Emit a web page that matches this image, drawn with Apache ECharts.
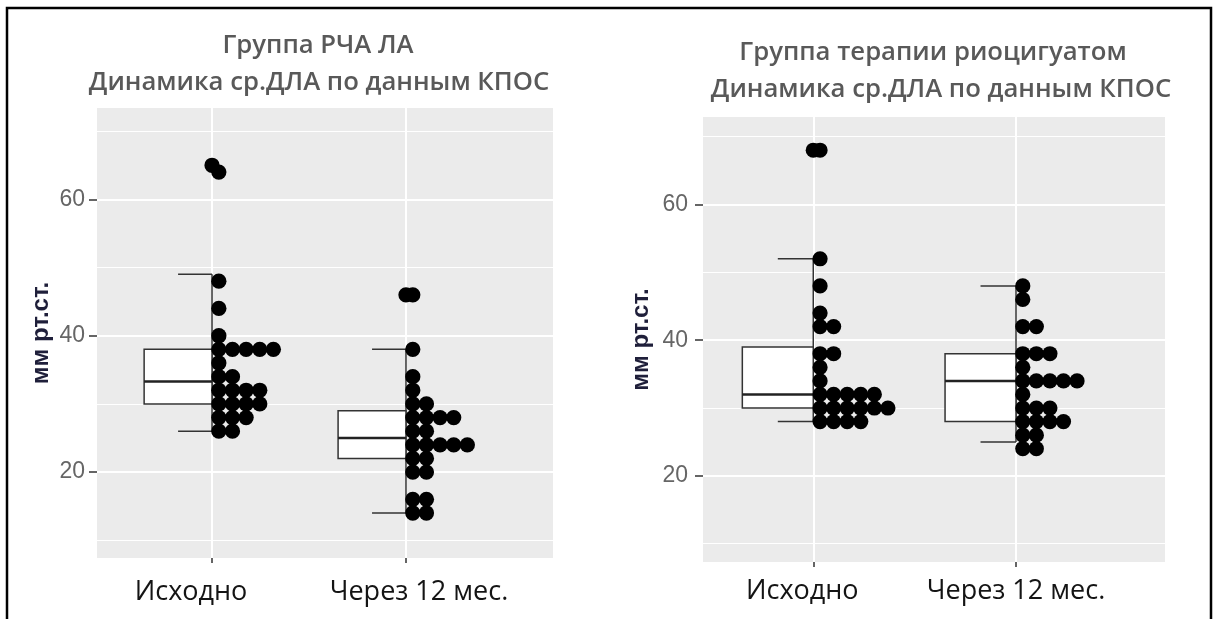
<!DOCTYPE html>
<html>
<head>
<meta charset="utf-8">
<script src="https://cdn.jsdelivr.net/npm/echarts@6/dist/echarts.min.js"></script>
<style>
  html, body { margin: 0; padding: 0; background: #fff; }
  #chart { width: 1217px; height: 619px; }
</style>
</head>
<body>
<div id="chart"></div>
<script>
// categories and tick labels
const categories = ['Исходно', 'Через 12 мес.'];
const yTicks = [20, 40, 60];
const yMinorTicks = [10, 30, 50, 70];

// РЧА ЛА: boxplot [нижний ус, Q1, медиана, Q3, верхний ус]
const rfaBox = [[26, 30, 33.3, 38, 49], [14, 22, 25, 29, 38]];
const rfaBaseline = [64, 48, 44, 40, 38, 38, 38, 38, 38, 36, 34, 34, 32, 32, 32, 32, 30, 30, 30, 30, 28, 28, 28, 26, 26];
const rfaBaselineOut = [65];
const rfa12 = [46, 38, 34, 32, 30, 30, 28, 28, 28, 28, 26, 26, 24, 24, 24, 24, 24, 22, 22, 20, 20, 16, 16, 14, 14];
const rfa12Out = [46];

// риоцигуат
const rioBox = [[28, 30, 32, 39, 52], [25, 28, 34, 38, 48]];
const rioBaseline = [68, 52, 48, 44, 42, 42, 38, 38, 36, 34, 32, 32, 32, 32, 32, 30, 30, 30, 30, 30, 30, 28, 28, 28, 28];
const rioBaselineOut = [68];
const rio12 = [48, 46, 42, 42, 38, 38, 38, 36, 34, 34, 34, 34, 34, 32, 30, 30, 30, 28, 28, 28, 28, 26, 26, 24, 24];
const rio12Out = [];

const binWidth = 2;
const boxWidth = 0.35;

// dotplot: stack equal values to the right of the category line
function stackDots(cat, values, outliers) {
    const counts = {};
    const out = [];
    values.forEach(v => {
        const k = counts[v] || 0;
        counts[v] = k + 1;
        out.push([cat, v, k]);
    });
    outliers.forEach(v => out.push([cat, v, -0.5]));
    return out;
}

function renderDot(params, api) {
    const c = api.coord([api.value(0), api.value(1)]);
    const d = api.size([0, binWidth])[1];
    return {
        type: 'circle',
        shape: { cx: c[0] + d / 2 + api.value(2) * d, cy: c[1], r: d * 0.56 },
        style: { fill: '#000' }
    };
}

function renderBox(params, api) {
    const x = api.value(0);
    const lo = api.coord([x, api.value(1)]);
    const q1 = api.coord([x, api.value(2)]);
    const med = api.coord([x, api.value(3)]);
    const q3 = api.coord([x, api.value(4)]);
    const hi = api.coord([x, api.value(5)]);
    const w = api.size([boxWidth, 0])[0];
    const cx = lo[0];
    const st = { stroke: '#333', lineWidth: 1.5, fill: null };
    return {
        type: 'group',
        children: [
            { type: 'line', shape: { x1: cx, y1: lo[1], x2: cx, y2: hi[1] }, style: st },
            { type: 'line', shape: { x1: cx - w / 2, y1: lo[1], x2: cx, y2: lo[1] }, style: st },
            { type: 'line', shape: { x1: cx - w / 2, y1: hi[1], x2: cx, y2: hi[1] }, style: st },
            { type: 'rect', shape: { x: cx - w, y: q3[1], width: w, height: q1[1] - q3[1] },
              style: { fill: '#fff', stroke: '#333', lineWidth: 1.5 } },
            { type: 'line', shape: { x1: cx - w, y1: med[1], x2: cx, y2: med[1] },
              style: { stroke: '#222', lineWidth: 2.5 } }
        ]
    };
}

function boxData(boxes) {
    return boxes.map((b, i) => [i + 1].concat(b));
}

const grids = [
    { left: 97, top: 108, width: 456, height: 450, show: true, backgroundColor: '#ebebeb', borderWidth: 0 },
    { left: 703, top: 117, width: 462, height: 445, show: true, backgroundColor: '#ebebeb', borderWidth: 0 }
];

const catFont = { fontFamily: 'Open Sans', fontSize: 27, color: '#141414' };

function xAxisFor(gi, min, max, shifts, margin) {
    return {
        type: 'value', gridIndex: gi, min: min, max: max,
        axisLine: { show: false },
        axisTick: { show: true, customValues: [1, 2], length: 5, lineStyle: { color: '#333', width: 1.5 } },
        axisLabel: {
            customValues: [1, 2], margin: margin,
            formatter: v => '{c' + v + '|' + categories[v - 1] + '}',
            rich: {
                c1: Object.assign({ padding: shifts[0] }, catFont),
                c2: Object.assign({ padding: shifts[1] }, catFont)
            }
        },
        splitLine: { show: true, lineStyle: { color: '#fff', width: 2 } }
    };
}

function yAxisFor(gi, min, max, margin, gap) {
    return [{
        type: 'value', gridIndex: gi, min: min, max: max,
        name: 'мм рт.ст.', nameLocation: 'middle', nameGap: gap, nameRotate: 90,
        nameTextStyle: { fontFamily: 'Liberation Sans', fontSize: 24, fontWeight: 'bold', color: '#1f1f3a' },
        axisLine: { show: false },
        axisTick: { show: true, customValues: yTicks, length: 8, lineStyle: { color: '#333', width: 1.5 } },
        axisLabel: { customValues: yTicks, margin: margin, fontFamily: 'Liberation Sans', fontSize: 23, color: '#666' },
        splitLine: { show: true, lineStyle: { color: '#fff', width: 2 } }
    }, {
        type: 'value', gridIndex: gi, min: min, max: max,
        axisLine: { show: false },
        axisTick: { show: false, customValues: yMinorTicks },
        axisLabel: { show: false },
        splitLine: { show: true, lineStyle: { color: '#fff', width: 1 } }
    }];
}

const titleStyle = { fontFamily: 'Open Sans', fontSize: 25.7, fontWeight: 600, fill: '#595959', align: 'center', verticalAlign: 'middle' };

const option = {
    backgroundColor: '#fff',
    animation: false,
    grid: grids,
    xAxis: [
        xAxisFor(0, 0.407, 2.758, [[0, 42, 0, 0], [0, 0, 0, 26]], 21),
        xAxisFor(1, 0.456, 2.735, [[0, 22, 0, 0], [0, 0, 0, 0]], 16)
    ],
    yAxis: yAxisFor(0, 7.4, 73.4, 12, 44).concat(yAxisFor(1, 7.3, 72.9, 15, 50)),
    graphic: [
        { type: 'rect', shape: { x: 7, y: 8, width: 1204, height: 640 }, style: { fill: null, stroke: '#000', lineWidth: 2.5 } },
        { type: 'text', x: 318, y: 46, style: Object.assign({ text: 'Группа РЧА ЛА' }, titleStyle) },
        { type: 'text', x: 319, y: 83, style: Object.assign({ text: 'Динамика ср.ДЛА по данным КПОС' }, titleStyle) },
        { type: 'text', x: 933, y: 53, style: Object.assign({ text: 'Группа терапии риоцигуатом' }, titleStyle) },
        { type: 'text', x: 941, y: 90, style: Object.assign({ text: 'Динамика ср.ДЛА по данным КПОС' }, titleStyle) }
    ],
    series: [
        { type: 'custom', xAxisIndex: 0, yAxisIndex: 0, renderItem: renderBox, data: boxData(rfaBox), z: 2 },
        { type: 'custom', xAxisIndex: 0, yAxisIndex: 0, renderItem: renderDot,
          data: stackDots(1, rfaBaseline, rfaBaselineOut).concat(stackDots(2, rfa12, rfa12Out)), z: 3 },
        { type: 'custom', xAxisIndex: 1, yAxisIndex: 2, renderItem: renderBox, data: boxData(rioBox), z: 2 },
        { type: 'custom', xAxisIndex: 1, yAxisIndex: 2, renderItem: renderDot,
          data: stackDots(1, rioBaseline, rioBaselineOut).concat(stackDots(2, rio12, rio12Out)), z: 3 }
    ]
};

var chartDom = document.getElementById('chart');
var myChart = echarts.init(chartDom);
option && myChart.setOption(option);
</script>
</body>
</html>
